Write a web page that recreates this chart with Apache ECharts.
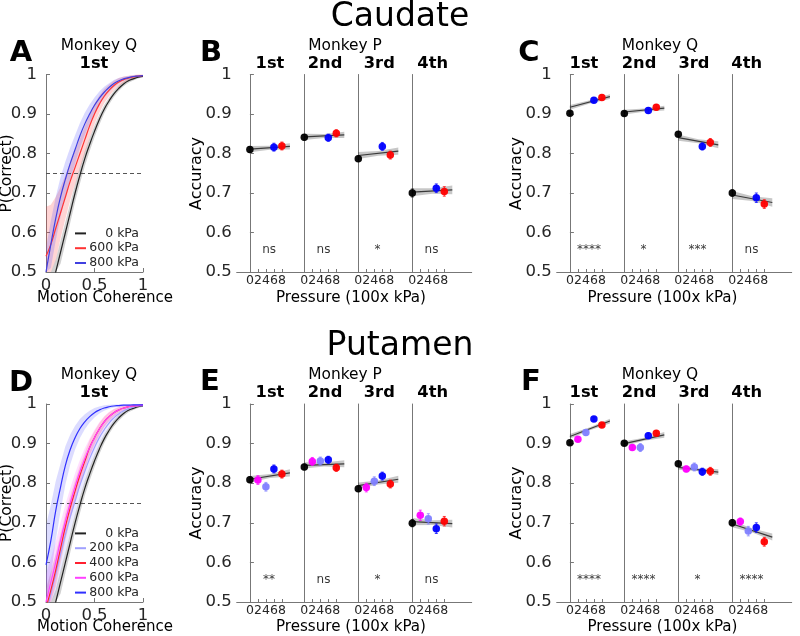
<!DOCTYPE html>
<html><head><meta charset="utf-8">
<script src="https://cdn.jsdelivr.net/npm/echarts@6/dist/echarts.min.js"></script>
<style>html,body{margin:0;padding:0;background:#fff}#c{width:800px;height:636px}</style>
</head><body><div id="c"></div>
<script>
// ================= DATA =================
const subLabels = ['1st', '2nd', '3rd', '4th'];
const pressureTicks = [0, 2, 4, 6, 8];
const cohTicks = [0, 0.5, 1];
const accTicks = [0.5, 0.6, 0.7, 0.8, 0.9, 1];
const fitX = [0, 5, 10];

// psychometric curves (motion coherence vs P(correct))
const coherence = [0,0.05,0.1,0.15,0.2,0.25,0.3,0.35,0.4,0.45,0.5,0.55,0.6,0.65,0.7,0.75,0.8,0.85,0.9,0.95,1];
const A_p0     = [0.40,0.45,0.50,0.55,0.60,0.65,0.70,0.745,0.787,0.823,0.856,0.886,0.912,0.933,0.951,0.965,0.976,0.984,0.989,0.993,0.995];
const A_p0ci   = [0.035,0.033,0.031,0.029,0.027,0.025,0.023,0.021,0.019,0.017,0.015,0.013,0.011,0.009,0.008,0.007,0.006,0.005,0.004,0.003,0.002];
const A_p600   = [0.54,0.57,0.61,0.65,0.69,0.73,0.765,0.80,0.835,0.87,0.90,0.925,0.945,0.96,0.972,0.981,0.987,0.991,0.994,0.996,0.997];
const A_p600ci = [0.125,0.10,0.08,0.065,0.055,0.048,0.042,0.038,0.034,0.03,0.026,0.022,0.018,0.015,0.012,0.01,0.008,0.006,0.005,0.004,0.003];
const A_p800   = [0.50,0.57,0.635,0.69,0.735,0.775,0.81,0.845,0.875,0.90,0.922,0.94,0.955,0.967,0.977,0.984,0.989,0.992,0.995,0.996,0.997];
const A_p800ci = [0.06,0.06,0.055,0.05,0.045,0.04,0.036,0.032,0.028,0.024,0.02,0.017,0.014,0.011,0.009,0.007,0.005,0.004,0.003,0.003,0.002];

const D_p0     = [0.40,0.45,0.50,0.55,0.60,0.65,0.70,0.745,0.787,0.823,0.856,0.886,0.912,0.933,0.951,0.965,0.976,0.984,0.989,0.993,0.995];
const D_p0ci   = [0.035,0.033,0.031,0.029,0.027,0.025,0.023,0.021,0.019,0.017,0.015,0.013,0.011,0.009,0.008,0.007,0.006,0.005,0.004,0.003,0.002];
const D_p200   = [0.47,0.52,0.57,0.62,0.67,0.715,0.755,0.795,0.83,0.862,0.89,0.915,0.935,0.952,0.965,0.975,0.983,0.988,0.992,0.995,0.996];
const D_p200ci = [0.06,0.055,0.05,0.046,0.042,0.038,0.034,0.03,0.027,0.024,0.021,0.018,0.015,0.012,0.01,0.008,0.006,0.005,0.004,0.003,0.002];
const D_p400   = [0.485,0.53,0.58,0.635,0.69,0.738,0.78,0.82,0.855,0.89,0.915,0.937,0.955,0.968,0.978,0.985,0.99,0.993,0.995,0.996,0.997];
const D_p400ci = [0.05,0.046,0.042,0.038,0.034,0.031,0.028,0.025,0.022,0.019,0.017,0.015,0.013,0.011,0.009,0.007,0.006,0.005,0.004,0.003,0.002];
const D_p600   = [0.50,0.55,0.60,0.655,0.705,0.75,0.792,0.83,0.862,0.89,0.915,0.937,0.955,0.968,0.978,0.985,0.99,0.993,0.995,0.996,0.997];
const D_p600ci = [0.07,0.06,0.052,0.046,0.041,0.037,0.033,0.029,0.026,0.023,0.02,0.017,0.014,0.012,0.01,0.008,0.006,0.005,0.004,0.003,0.002];
const D_p800   = [0.594,0.655,0.73,0.79,0.845,0.885,0.915,0.938,0.955,0.968,0.978,0.985,0.99,0.993,0.995,0.996,0.997,0.997,0.998,0.998,0.998];
const D_p800ci = [0.10,0.09,0.075,0.06,0.048,0.038,0.03,0.024,0.019,0.015,0.012,0.009,0.007,0.005,0.004,0.003,0.003,0.002,0.002,0.002,0.002];

// accuracy vs pressure (x in 100 kPa)
const BC_pressure = [0, 6, 8];
const EF_pressure = [0, 2, 4, 6, 8];

const B_acc = [[0.810,0.816,0.819],[0.841,0.840,0.851],[0.787,0.818,0.796],[0.700,0.712,0.704]];
const B_err = [[0.007,0.010,0.010],[0.007,0.009,0.009],[0.007,0.010,0.010],[0.010,0.011,0.012]];
const B_fit = [[0.811,0.818],[0.842,0.847],[0.795,0.806],[0.702,0.708]];
const B_band = [[0.008,0.005,0.008],[0.008,0.005,0.008],[0.009,0.006,0.009],[0.010,0.007,0.011]];
const B_sig = ['ns','ns','*','ns'];

const C_acc = [[0.902,0.935,0.942],[0.901,0.909,0.917],[0.849,0.818,0.828],[0.700,0.688,0.672]];
const C_err = [[0.004,0.006,0.006],[0.005,0.007,0.007],[0.006,0.009,0.010],[0.008,0.012,0.011]];
const C_fit = [[0.917,0.944],[0.905,0.915],[0.840,0.822],[0.695,0.676]];
const C_band = [[0.006,0.004,0.006],[0.006,0.004,0.006],[0.008,0.005,0.009],[0.010,0.006,0.011]];
const C_sig = ['****','*','***','ns'];

const E_acc = [[0.809,0.808,0.791,0.836,0.823],[0.841,0.855,0.856,0.859,0.839],[0.786,0.789,0.805,0.818,0.798],[0.699,0.719,0.710,0.685,0.704]];
const E_err = [[0.007,0.011,0.011,0.010,0.010],[0.007,0.010,0.010,0.009,0.009],[0.007,0.011,0.011,0.010,0.010],[0.009,0.013,0.013,0.012,0.012]];
const E_fit = [[0.810,0.826],[0.845,0.849],[0.794,0.810],[0.703,0.698]];
const E_band = [[0.008,0.005,0.009],[0.008,0.005,0.009],[0.008,0.005,0.009],[0.009,0.006,0.010]];
const E_sig = ['**','ns','*','ns'];

const F_acc = [[0.902,0.911,0.928,0.962,0.947],[0.901,0.890,0.890,0.920,0.926],[0.849,0.836,0.841,0.829,0.830],[0.700,0.703,0.679,0.688,0.652]];
const F_err = [[0.004,0.005,0.007,0.005,0.005],[0.005,0.006,0.010,0.007,0.006],[0.006,0.007,0.010,0.009,0.010],[0.008,0.009,0.012,0.012,0.011]];
const F_fit = [[0.918,0.957],[0.900,0.922],[0.840,0.828],[0.697,0.664]];
const F_band = [[0.006,0.004,0.006],[0.006,0.004,0.007],[0.006,0.004,0.007],[0.008,0.005,0.009]];
const F_sig = ['****','****','*','****'];

// ================= STYLE / LAYOUT =================
const FONT = 'DejaVu Sans';
const AXC = '#777777';
const TXC = '#262626';
const COL = {k:'#000000', b:'#0000ff', r:'#ff0000', m:'#ff00ff', lb:'#8080ff'};
const BC_colors = [COL.k, COL.b, COL.r];
const EF_colors = [COL.k, COL.m, COL.lb, COL.b, COL.r];

const ROW = [{top:74.5, h:197.5}, {top:404, h:198}];
const SUB_EDGES_L = [236.7, 297.3, 351.3, 405.3, 471.7];
const SUB_EDGES_R = [556.7, 617.3, 671.3, 725.3, 791.7];
const PX_PER_UNIT = 4;
const SUB_MIN = [-3.3, -1.75, -1.75, -1.75];
const SIG_X = 4.8, SIG_Y = 0.556;

const grids = [], xAxes = [], yAxes = [], series = [], graphics = [], legends = [];

function yAxisCfg(gi, withLabels) {
  return {
    gridIndex: gi, type: 'value', min: 0.5, max: 1,
    axisLine: {show: true, lineStyle: {color: AXC, width: 1}},
    axisTick: {show: !!withLabels, inside: true, length: 4, lineStyle: {color: AXC}, customValues: accTicks},
    axisLabel: {show: !!withLabels, customValues: accTicks, fontFamily: FONT, fontSize: 16.5, color: TXC, margin: withLabels === 'psy' ? 9 : 5},
    splitLine: {show: false}
  };
}

function bandSeries(xi, yi, xs, lo, hi, color, z) {
  return {
    type: 'custom', xAxisIndex: xi, yAxisIndex: yi, z: z || 1, silent: true,
    data: [[xs[0], lo[0]]],
    renderItem: function (params, api) {
      const pts = [];
      for (let i = 0; i < xs.length; i++) pts.push(api.coord([xs[i], hi[i]]));
      for (let i = xs.length - 1; i >= 0; i--) pts.push(api.coord([xs[i], lo[i]]));
      const cs = params.coordSys;
      const clipped = echarts.graphic.clipPointsByRect(pts, {x: cs.x, y: cs.y, width: cs.width, height: cs.height});
      return {type: 'polygon', shape: {points: clipped}, style: {fill: color, stroke: null}};
    }
  };
}

// ---------- psychometric panel ----------
function psychPanel(rowIdx, curves, legendTop) {
  const r = ROW[rowIdx];
  grids.push({left: 46, top: r.top, width: 97, height: r.h});
  const gi = grids.length - 1;
  xAxes.push({gridIndex: gi, type: 'value', min: 0, max: 1,
    axisLine: {show: true, lineStyle: {color: AXC}},
    axisTick: {inside: true, length: 4, customValues: cohTicks, lineStyle: {color: AXC}},
    axisLabel: {customValues: cohTicks, fontFamily: FONT, fontSize: 16.5, color: TXC, margin: 5},
    splitLine: {show: false}});
  yAxes.push(yAxisCfg(gi, 'psy'));
  const xi = xAxes.length - 1, yi = yAxes.length - 1;
  curves.forEach((c, k) => {
    const lo = c.p.map((v, i) => v - c.ci[i]);
    const hi = c.p.map((v, i) => v + c.ci[i]);
    series.push(bandSeries(xi, yi, coherence, lo, hi, c.band, 1 + k));
  });
  curves.forEach((c, k) => {
    const s = {type: 'line', name: c.name, xAxisIndex: xi, yAxisIndex: yi, z: 10 + k,
      data: coherence.map((x, i) => [x, c.p[i]]), smooth: true, showSymbol: false, symbol: 'none',
      clip: true, lineStyle: {color: c.color, width: 1.2}, itemStyle: {color: c.color}, silent: true};
    if (k === 0) {
      s.markLine = {silent: true, symbol: 'none', label: {show: false},
        lineStyle: {color: '#555', type: [4, 3], width: 1}, data: [{yAxis: 0.75}]};
    }
    series.push(s);
  });
  legends.push({
    orient: 'vertical', left: 75, top: legendTop, itemWidth: 11, itemHeight: 2, itemGap: 1,
    icon: 'rect', selectedMode: false, padding: 0,
    data: curves.map(c => ({name: c.name, itemStyle: {color: c.color}})),
    formatter: n => '{a|' + n + '}',
    textStyle: {fontFamily: FONT, fontSize: 12.5, color: TXC, lineHeight: 13.8, height: 13.8,
      rich: {a: {width: 48, align: 'right', fontFamily: FONT, fontSize: 12.5, color: TXC, lineHeight: 13.8, height: 13.8}}}
  });
}

// ---------- accuracy-vs-pressure panel ----------
function accPanel(rowIdx, edges, xs, colors, acc, err, fit, band, sig) {
  const r = ROW[rowIdx];
  for (let s = 0; s < 4; s++) {
    const w = edges[s + 1] - edges[s];
    grids.push({left: edges[s], top: r.top, width: w, height: r.h});
    const gi = grids.length - 1;
    xAxes.push({gridIndex: gi, type: 'value', min: SUB_MIN[s], max: SUB_MIN[s] + w / PX_PER_UNIT,
      axisLine: {show: true, lineStyle: {color: AXC}},
      axisTick: {inside: true, length: 3, customValues: pressureTicks, lineStyle: {color: AXC}},
      axisLabel: {customValues: pressureTicks, fontFamily: FONT, fontSize: 12.5, color: TXC, margin: 2},
      splitLine: {show: false}});
    yAxes.push(yAxisCfg(gi, s === 0));
    const xi = xAxes.length - 1, yi = yAxes.length - 1;
    const fm = (fit[s][0] + fit[s][1]) / 2;
    const fy = [fit[s][0], fm, fit[s][1]];
    series.push(bandSeries(xi, yi, fitX, fy.map((v, i) => v - band[s][i]), fy.map((v, i) => v + band[s][i]), 'rgba(0,0,0,0.22)', 1));
    series.push({type: 'line', xAxisIndex: xi, yAxisIndex: yi, z: 3, silent: true, symbol: 'none',
      data: [[fitX[0], fit[s][0]], [fitX[2], fit[s][1]]], lineStyle: {color: '#3a3a3a', width: 1.2}});
    series.push({type: 'custom', xAxisIndex: xi, yAxisIndex: yi, z: 4, silent: true,
      data: xs.map((x, i) => [x, acc[s][i], err[s][i], i]),
      renderItem: function (params, api) {
        const x = api.value(0), y = api.value(1), e = api.value(2), ci = api.value(3);
        const p0 = api.coord([x, y - e]), p1 = api.coord([x, y + e]);
        const st = {stroke: colors[ci], lineWidth: 1, opacity: 0.75};
        return {type: 'group', children: [
          {type: 'line', shape: {x1: p0[0], y1: p0[1], x2: p1[0], y2: p1[1]}, style: st},
          {type: 'line', shape: {x1: p0[0] - 1.5, y1: p0[1], x2: p0[0] + 1.5, y2: p0[1]}, style: st},
          {type: 'line', shape: {x1: p1[0] - 1.5, y1: p1[1], x2: p1[0] + 1.5, y2: p1[1]}, style: st}
        ]};
      }});
    series.push({type: 'scatter', xAxisIndex: xi, yAxisIndex: yi, z: 5, silent: true, symbolSize: 7.5,
      data: xs.map((x, i) => ({value: [x, acc[s][i]], itemStyle: {color: colors[i], opacity: 0.95}}))});
    series.push({type: 'scatter', xAxisIndex: xi, yAxisIndex: yi, z: 6, silent: true, symbolSize: 0,
      data: [[SIG_X, SIG_Y]],
      label: {show: true, position: 'inside', formatter: sig[s], fontFamily: FONT, fontSize: 12, color: '#000'}});
  }
}

psychPanel(0, [
  {name: '0 kPa', p: A_p0, ci: A_p0ci, color: '#222222', band: 'rgba(0,0,0,0.18)'},
  {name: '600 kPa', p: A_p600, ci: A_p600ci, color: '#ff3333', band: 'rgba(255,60,60,0.22)'},
  {name: '800 kPa', p: A_p800, ci: A_p800ci, color: '#4040e0', band: 'rgba(80,80,255,0.22)'}
], 226.5);
accPanel(0, SUB_EDGES_L, BC_pressure, BC_colors, B_acc, B_err, B_fit, B_band, B_sig);
accPanel(0, SUB_EDGES_R, BC_pressure, BC_colors, C_acc, C_err, C_fit, C_band, C_sig);
psychPanel(1, [
  {name: '0 kPa', p: D_p0, ci: D_p0ci, color: '#222222', band: 'rgba(0,0,0,0.18)'},
  {name: '200 kPa', p: D_p200, ci: D_p200ci, color: '#a0a0ff', band: 'rgba(150,150,255,0.18)'},
  {name: '400 kPa', p: D_p400, ci: D_p400ci, color: '#ff2030', band: 'rgba(255,60,60,0.18)'},
  {name: '600 kPa', p: D_p600, ci: D_p600ci, color: '#ff40ff', band: 'rgba(255,80,255,0.18)'},
  {name: '800 kPa', p: D_p800, ci: D_p800ci, color: '#3030ff', band: 'rgba(80,80,255,0.2)'}
], 526.5);
accPanel(1, SUB_EDGES_L, EF_pressure, EF_colors, E_acc, E_err, E_fit, E_band, E_sig);
accPanel(1, SUB_EDGES_R, EF_pressure, EF_colors, F_acc, F_err, F_fit, F_band, F_sig);

// ---------- texts ----------
function txt(x, y, text, size, bold, rot) {
  graphics.push({type: 'text', x: x, y: y, rotation: rot || 0, silent: true,
    style: {text: text, fontFamily: FONT, fontSize: size, fontWeight: bold ? 'bold' : 'normal',
      fill: '#000', align: 'center', verticalAlign: 'middle'}});
}
txt(400, 17, 'Caudate', 33, false);
txt(400, 346, 'Putamen', 33, false);
[['A', 21, 53], ['B', 211, 53], ['C', 529, 53], ['D', 21, 383], ['E', 210, 382], ['F', 531, 382]]
  .forEach(a => txt(a[1], a[2], a[0], 29, true));
[0, 1].forEach(ri => {
  const ty = ri === 0 ? 45.5 : 375;
  const sy = ri === 0 ? 63.5 : 392.5;
  txt(99, ty, 'Monkey Q', 15.4, false);
  txt(94, sy, '1st', 16.3, true);
  txt(345, ty, 'Monkey P', 15.4, false);
  txt(660, ty, 'Monkey Q', 15.4, false);
  [270, 325, 379.3, 432.7].forEach((x, i) => txt(x, sy, subLabels[i], 16.3, true));
  [584, 639, 694, 746.7].forEach((x, i) => txt(x, sy, subLabels[i], 16.3, true));
  const ay = ri === 0 ? 173.5 : 503;
  txt(7, ay, 'P(Correct)', 15.5, false, Math.PI / 2);
  txt(197, ay, 'Accuracy', 16, false, Math.PI / 2);
  txt(517, ay, 'Accuracy', 16, false, Math.PI / 2);
  const ly = ri === 0 ? 298.5 : 627;
  txt(105, ly, 'Motion Coherence', 15, false);
  txt(351, ly, 'Pressure (100x kPa)', 15.1, false);
  txt(662.5, ly, 'Pressure (100x kPa)', 15.1, false);
});

const chart = echarts.init(document.getElementById('c'), null, {renderer: 'canvas'});
chart.setOption({
  animation: false,
  backgroundColor: '#ffffff',
  textStyle: {fontFamily: FONT},
  grid: grids, xAxis: xAxes, yAxis: yAxes, series: series, legend: legends,
  graphic: graphics
});
</script></body></html>
